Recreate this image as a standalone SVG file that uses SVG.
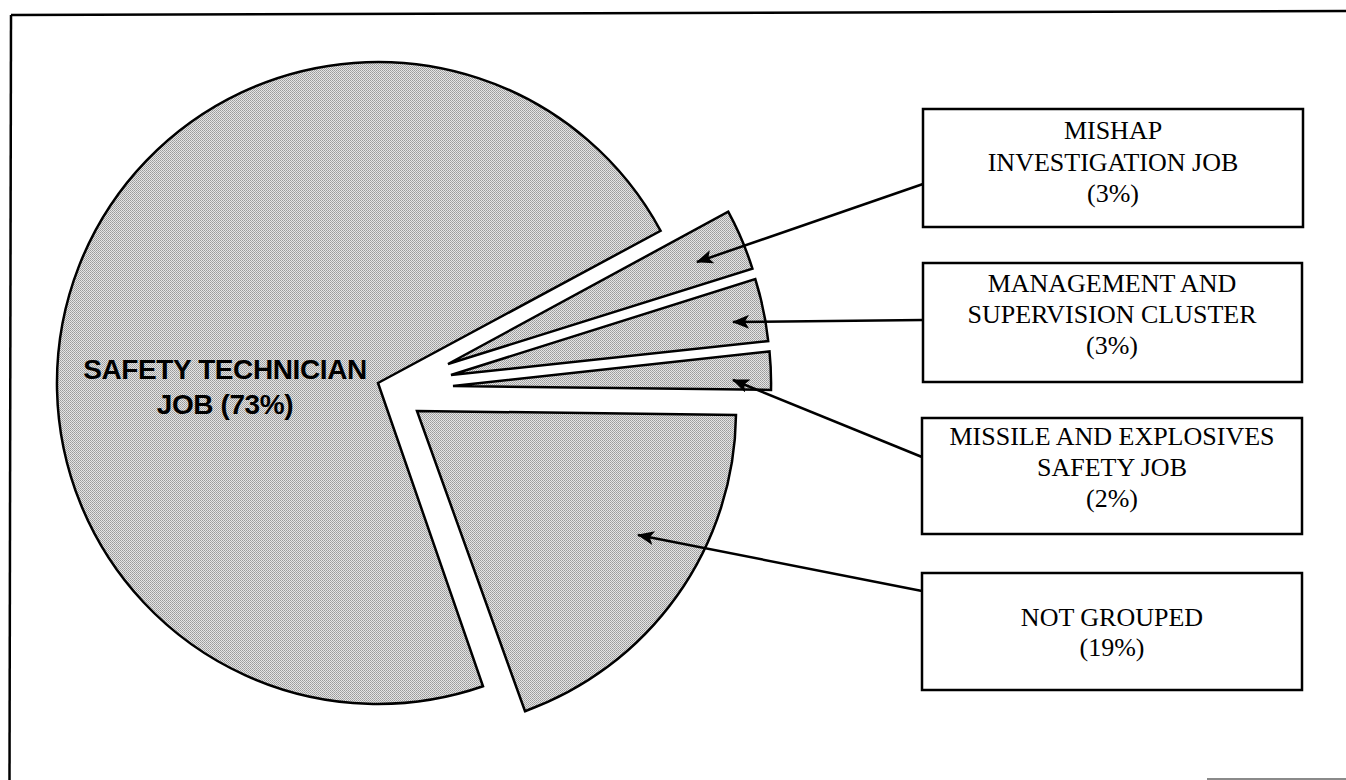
<svg xmlns="http://www.w3.org/2000/svg" width="1346" height="780" viewBox="0 0 1346 780">
  <style>
    .slice { fill: url(#dither); stroke: #000; stroke-width: 2.5; stroke-linejoin: miter; }
    .box { fill: #fff; stroke: #000; stroke-width: 2.5; }
    .lbl { font-family: "Liberation Serif", "Times New Roman", serif; font-size: 26px; fill: #000; text-anchor: middle; }
    .main { font-family: "Liberation Sans", Arial, sans-serif; font-size: 28px; font-weight: bold; fill: #000; text-anchor: middle; letter-spacing: -0.4px; }
    .conn { stroke: #000; stroke-width: 2.5; fill: none; marker-end: url(#arrow); }
    .frame { stroke: #000; stroke-width: 2.5; fill: none; }
  </style>
  <defs>
    <pattern id="dither" patternUnits="userSpaceOnUse" x="0" y="0" width="2" height="2">
      <rect x="0" y="0" width="2" height="2" fill="#e4e4e4"/>
      <rect x="0" y="0" width="1" height="1" fill="#9a9a9a"/>
      <rect x="1" y="1" width="1" height="1" fill="#a8a8a8"/>
    </pattern>
    <marker id="arrow" markerUnits="userSpaceOnUse" markerWidth="18" markerHeight="14" refX="16" refY="7" orient="auto">
      <path d="M0,0 L17,7 L0,14 L4,7 Z" fill="#000"/>
    </marker>
  </defs>

  <rect x="0" y="0" width="1346" height="780" fill="#fff"/>

  <g id="frame">
    <line class="frame" x1="11" y1="15" x2="1346" y2="11"/>
    <line class="frame" x1="11" y1="15" x2="9.5" y2="780"/>
    <line x1="1207" y1="779" x2="1346" y2="779" stroke="#8a8a8a" stroke-width="2"/>
  </g>

  <g id="slice-safety-technician">
    <path class="slice" d="M378,383 L660.6,230.8 A321,321 0 1 0 483,686.3 Z"/>
    <text class="main" x="225" y="379">SAFETY TECHNICIAN</text>
    <text class="main" x="225" y="414">JOB (73%)</text>
  </g>

  <g id="slice-mishap">
    <path class="slice" d="M448,364 L728.2,211.7 A319,319 0 0 1 752.4,268.6 Z"/>
  </g>

  <g id="slice-management">
    <path class="slice" d="M451,375 L755.3,279.1 A319,319 0 0 1 768.2,341.1 Z"/>
  </g>

  <g id="slice-missile">
    <path class="slice" d="M453,386 L769.5,351.5 A318,318 0 0 1 771,389.9 Z"/>
  </g>

  <g id="slice-not-grouped">
    <path class="slice" d="M417,411 L736,414.9 A319,319 0 0 1 525,711.2 Z"/>
  </g>

  <g id="connectors">
    <line class="conn" x1="923" y1="184" x2="697" y2="262"/>
    <line class="conn" x1="923" y1="320" x2="733" y2="322"/>
    <line class="conn" x1="922" y1="457" x2="733" y2="380"/>
    <line class="conn" x1="922" y1="591" x2="638" y2="535"/>
  </g>

  <g id="box-mishap">
    <rect class="box" x="923" y="109" width="380" height="118"/>
    <text class="lbl" x="1113" y="139">MISHAP</text>
    <text class="lbl" x="1113" y="171">INVESTIGATION JOB</text>
    <text class="lbl" x="1113" y="202">(3%)</text>
  </g>

  <g id="box-management">
    <rect class="box" x="923" y="263" width="379" height="119"/>
    <text class="lbl" x="1112" y="292">MANAGEMENT AND</text>
    <text class="lbl" x="1112" y="323">SUPERVISION CLUSTER</text>
    <text class="lbl" x="1112" y="354">(3%)</text>
  </g>

  <g id="box-missile">
    <rect class="box" x="922" y="418" width="380" height="116"/>
    <text class="lbl" x="1112" y="445">MISSILE AND EXPLOSIVES</text>
    <text class="lbl" x="1112" y="476">SAFETY JOB</text>
    <text class="lbl" x="1112" y="507">(2%)</text>
  </g>

  <g id="box-not-grouped">
    <rect class="box" x="922" y="573" width="380" height="117"/>
    <text class="lbl" x="1112" y="626">NOT GROUPED</text>
    <text class="lbl" x="1112" y="656">(19%)</text>
  </g>
</svg>
